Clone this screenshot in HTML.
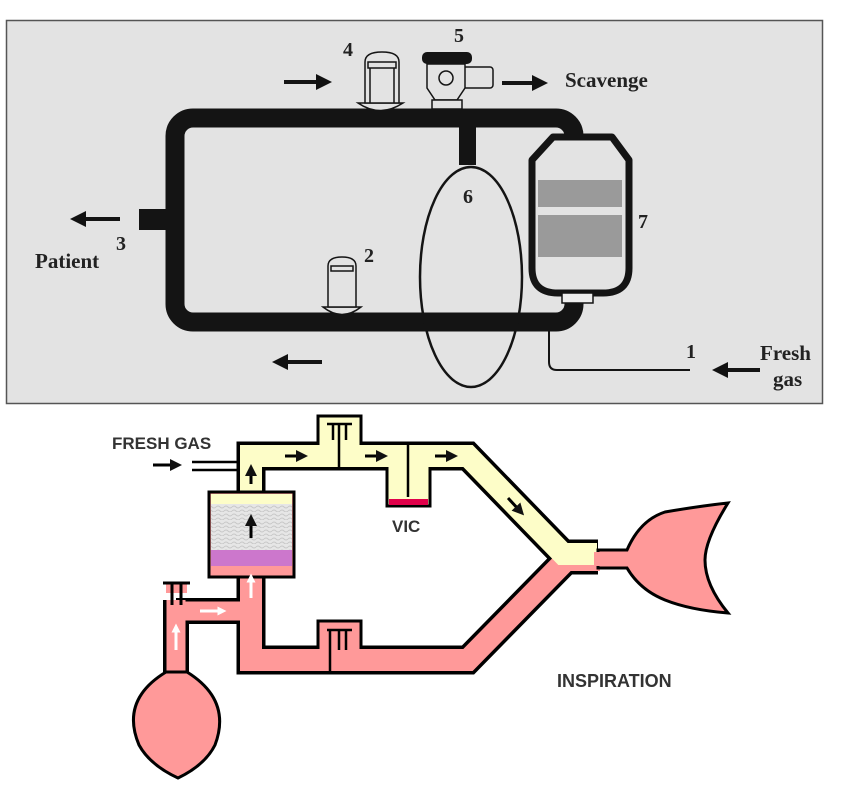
<!DOCTYPE html>
<html><head><meta charset="utf-8"><style>
html,body{margin:0;padding:0;background:#fff;width:850px;height:786px;overflow:hidden}
svg{display:block}
.t{font-family:"Liberation Serif",serif;font-weight:bold;fill:#222}
.s{font-family:"Liberation Sans",sans-serif;font-weight:bold;fill:#333}
</style></head><body>
<svg width="850" height="786" viewBox="0 0 850 786" xmlns="http://www.w3.org/2000/svg">
<defs>
<marker id="ah" markerWidth="4" markerHeight="4" refX="2" refY="2" orient="auto" markerUnits="strokeWidth"><path d="M0,0 L4,2 L0,4 Z" fill="#111"/></marker>
<marker id="aw" markerWidth="3" markerHeight="3" refX="1.5" refY="1.5" orient="auto" markerUnits="strokeWidth"><path d="M0,0 L3,1.5 L0,3 Z" fill="#fff"/></marker>
<pattern id="gr" width="8" height="8" patternUnits="userSpaceOnUse"><rect width="8" height="8" fill="#e6e6e6"/><path d="M0,3 Q2,1 4,3 T8,3 M0,7 Q2,5 4,7 T8,7" stroke="#c8c8c8" stroke-width="1" fill="none"/></pattern>
</defs>
<!-- TOP PANEL -->
<rect x="6.5" y="20.5" width="816" height="383" fill="#e3e3e3" stroke="#555" stroke-width="1.5"/>
<rect x="175" y="118" width="399" height="204" rx="18" fill="none" stroke="#141414" stroke-width="19"/>
<rect x="139" y="209" width="27" height="21" fill="#141414"/>
<rect x="459" y="125" width="17" height="40" fill="#141414"/>
<ellipse cx="471" cy="277" rx="51" ry="110" fill="none" stroke="#141414" stroke-width="2.5"/>
<!-- canister -->
<path d="M553,137 L612,137 L629,160 L629,268 Q629,293 603,293 L558,293 Q532,293 532,268 L532,160 Z" fill="#e3e3e3" stroke="#141414" stroke-width="7" stroke-linejoin="round"/>
<rect x="538" y="180" width="84" height="27" fill="#9a9a9a"/>
<rect x="538" y="215" width="84" height="42" fill="#9a9a9a"/>
<rect x="562" y="293" width="31" height="10" fill="#eee" stroke="#141414" stroke-width="1.5"/>
<path d="M549,331 L549,362 Q549,370 557,370 L690,370" fill="none" stroke="#141414" stroke-width="2"/>
<!-- valve 4 -->
<path d="M358,103 Q380,118 403,103 Z" fill="#e3e3e3" stroke="#141414" stroke-width="1.5"/>
<path d="M365,103 L365,62 Q365,52 382,52 Q399,52 399,62 L399,103 Z" fill="#e3e3e3" stroke="#141414" stroke-width="1.5"/>
<rect x="368" y="62" width="28" height="6" fill="none" stroke="#141414" stroke-width="1.5"/>
<path d="M370,68 L370,103 M394,68 L394,103" stroke="#141414" stroke-width="1.5"/>
<!-- valve 5 -->
<rect x="422" y="52" width="50" height="12" rx="5" fill="#141414"/>
<rect x="463" y="67" width="30" height="21" rx="3" fill="#e3e3e3" stroke="#141414" stroke-width="1.5"/>
<path d="M427,64 L465,64 L465,88 L457,100 L435,100 L427,88 Z" fill="#e3e3e3" stroke="#141414" stroke-width="1.5"/>
<circle cx="446" cy="78" r="7" fill="none" stroke="#141414" stroke-width="1.5"/>
<rect x="432" y="100" width="30" height="9" fill="#e3e3e3" stroke="#141414" stroke-width="1.5"/>
<!-- valve 2 -->
<path d="M323,307 Q342,322 361,307 Z" fill="#e3e3e3" stroke="#141414" stroke-width="1.5"/>
<path d="M328,307 L328,266 Q328,257 342,257 Q356,257 356,266 L356,307 Z" fill="#e3e3e3" stroke="#141414" stroke-width="1.5"/>
<rect x="331" y="266" width="22" height="5" fill="none" stroke="#141414" stroke-width="1.5"/>
<g stroke="#141414" stroke-width="4" marker-end="url(#ah)">
<line x1="284" y1="82" x2="324" y2="82"/>
<line x1="502" y1="83" x2="540" y2="83"/>
<line x1="120" y1="219" x2="78" y2="219"/>
<line x1="322" y1="362" x2="280" y2="362"/>
<line x1="760" y1="370" x2="720" y2="370"/>
</g>
<g class="t" font-size="20">
<text x="565" y="87" font-size="21">Scavenge</text>
<text x="343" y="56">4</text>
<text x="454" y="42">5</text>
<text x="463" y="203">6</text>
<text x="638" y="228">7</text>
<text x="116" y="250">3</text>
<text x="364" y="262">2</text>
<text x="686" y="358">1</text>
<text x="35" y="268" font-size="21">Patient</text>
<text x="760" y="360" font-size="21">Fresh</text>
<text x="773" y="386" font-size="21">gas</text>
</g>
<!-- BOTTOM PANEL -->
<g fill="none" stroke-linejoin="miter">
<g stroke="#000">
<path d="M251,577 L251,660 L468,660 L566,560 L598,560" stroke-width="29"/>
<path d="M176,600 L176,690 M176,611 L251,611" stroke-width="26"/>
<path d="M251,495 L251,456 L468,456 L563,554 L598,554" stroke-width="29"/>
</g>
<rect x="318" y="416" width="43" height="40" fill="#fdfdc8" stroke="#000" stroke-width="3"/>
<rect x="387" y="456" width="43" height="50" fill="#fdfdc8" stroke="#000" stroke-width="3"/>
<rect x="318" y="621" width="43" height="40" fill="#f99" stroke="#000" stroke-width="3"/>
<g stroke="#f99">
<path d="M251,577 L251,660 L468,660 L566,560 L600,560" stroke-width="22"/>
<path d="M176,600 L176,690 M176,611 L251,611" stroke-width="19"/>
</g>
<path d="M251,495 L251,456 L468,456 L563,554 L597,554" stroke="#fdfdc8" stroke-width="22"/>
</g>
<rect x="321" y="445" width="37" height="14" fill="#fdfdc8"/>
<path d="M327,424 L352,424 M339,424 L339,468 M333,424 L333,440 M346,424 L346,440" stroke="#000" stroke-width="2.5"/>
<rect x="390" y="445" width="37" height="14" fill="#fdfdc8"/>
<rect x="389" y="499" width="39" height="6" fill="#e0004a"/>
<path d="M408,445 L408,497" stroke="#000" stroke-width="2.5"/>
<rect x="321" y="640" width="37" height="14" fill="#f99"/>
<path d="M327,630 L352,630 M330,630 L330,672 M339,630 L339,650 M346,630 L346,650" stroke="#000" stroke-width="2.5"/>
<rect x="166" y="583" width="21" height="10" fill="#f99"/>
<path d="M163,583 L190,583 M172,583 L172,605 M181,583 L181,605" stroke="#000" stroke-width="3"/>
<rect x="209" y="492" width="85" height="85" fill="#f99" stroke="#000" stroke-width="3"/>
<rect x="211" y="494" width="81" height="10" fill="#fdfdc8"/>
<rect x="211" y="504" width="81" height="46" fill="url(#gr)"/>
<rect x="211" y="550" width="81" height="16" fill="#cc77cc"/>
<path d="M192,462 L240,462 M192,470 L240,470" stroke="#000" stroke-width="2.5"/>
<path d="M166,672 Q120,700 139,745 Q150,765 178,778 Q205,765 215,745 Q232,700 187,672 Z" fill="#f99" stroke="#000" stroke-width="3"/>
<path d="M598,550 L627,550 Q640,520 665,512 Q700,506 728,503 Q705,540 705,560 Q705,585 728,613 Q690,610 665,600 Q640,590 627,568 L598,568 Z" fill="#f99" stroke="#000" stroke-width="3"/>
<rect x="594" y="552" width="6" height="14" fill="#f99"/>
<g stroke="#000" stroke-width="3" marker-end="url(#ah)">
<line x1="153" y1="465" x2="176" y2="465"/>
<line x1="285" y1="456" x2="302" y2="456"/>
<line x1="365" y1="456" x2="382" y2="456"/>
<line x1="435" y1="456" x2="452" y2="456"/>
<line x1="251" y1="484" x2="251" y2="470"/>
<line x1="251" y1="538" x2="251" y2="520"/>
<line x1="508" y1="498" x2="520" y2="511"/>
</g>
<g stroke="#fff" stroke-width="3" marker-end="url(#aw)">
<line x1="251" y1="598" x2="251" y2="578"/>
<line x1="200" y1="611" x2="222" y2="611"/>
<line x1="176" y1="650" x2="176" y2="628"/>
</g>
<text class="s" x="112" y="449" font-size="17">FRESH GAS</text>
<text class="s" x="392" y="532" font-size="17">VIC</text>
<text class="s" x="557" y="687" font-size="18">INSPIRATION</text>
</svg>
</body></html>
